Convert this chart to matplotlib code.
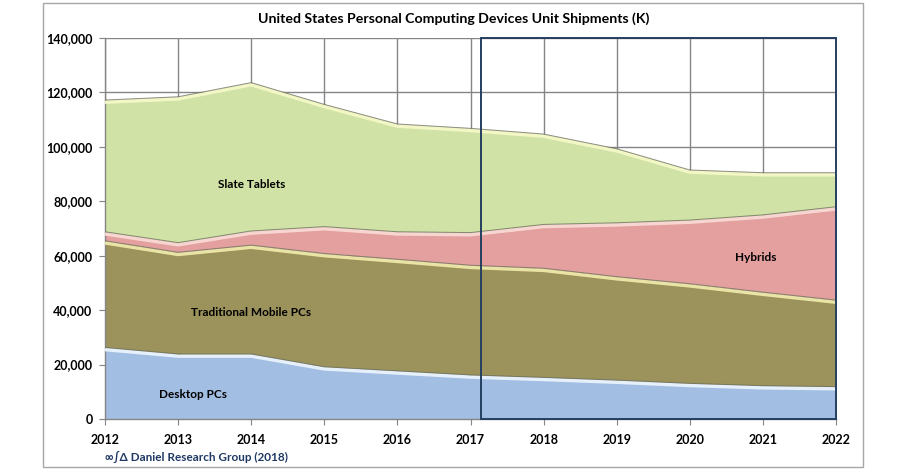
import matplotlib
matplotlib.use("Agg")
import matplotlib.pyplot as plt
import matplotlib.transforms as mtransforms
from matplotlib.patches import Rectangle
import numpy as np

plt.rcParams['font.family'] = ['Lato', 'DejaVu Sans']

years = [2012, 2013, 2014, 2015, 2016, 2017, 2018, 2019, 2020, 2021, 2022]
desktop = [26300, 23900, 23900, 19200, 17700, 16200, 15300, 14300, 13100, 12250, 11900]
mobile = [39200, 37350, 40000, 41600, 41000, 40300, 40100, 38000, 36600, 34350, 31800]
hybrids = [3300, 3550, 5200, 9900, 10100, 12000, 16100, 19800, 23400, 28400, 34300]
tablets = [48400, 53600, 54500, 44900, 39600, 38300, 33200, 27200, 18400, 15500, 12500]
yticks = [0, 20000, 40000, 60000, 80000, 100000, 120000, 140000]
forecast_start = 2017.14

title = "United States Personal Computing Devices Unit Shipments (K)"
source = "\u221e\u222b\u0394 Daniel Research Group (2018)"

fig = plt.figure(figsize=(9.09, 4.76), dpi=100)
fig.patch.set_facecolor('white')
# outer chart frame
fig.patches.append(Rectangle((43/909, 1-467/476), (863-43)/909, (467-3)/476,
                             transform=fig.transFigure, fill=False,
                             edgecolor='#A6A6A6', lw=1.0))

ax = fig.add_axes([105/909, 57/476, (836-105)/909, (419-38)/476])
ax.set_xlim(2012, 2022)
ax.set_ylim(0, 140000)

x = np.array(years, dtype=float)
series = [desktop, mobile, hybrids, tablets]
colors = ['#A3BEE3', '#9C925B', '#E3A09E', '#D0E2A5']
light = ['#E6F0FA', '#E9E4A6', '#F7D6D2', '#F3F7C6']
base = np.zeros(len(x))
tops = []
for s, c in zip(series, colors):
    top = base + np.array(s, dtype=float)
    ax.fill_between(x, base, top, color=c, lw=0, zorder=2)
    tops.append(top)
    base = top

off_down = mtransforms.offset_copy(ax.transData, fig=fig, x=0, y=-1.6, units='points')
for top, lc in zip(tops, light):
    ax.plot(x, top, color=lc, lw=2.4, transform=off_down, zorder=3, solid_capstyle='butt')
    ax.plot(x, top, color='#6F7160', lw=0.7, zorder=4, alpha=0.8)

ax.set_xticks(years)
ax.set_xticklabels([str(y) for y in years], fontsize=9, fontweight='bold')
ax.set_yticks(yticks)
ax.set_yticklabels([f"{v:,}" for v in yticks], fontsize=9, fontweight='bold')
ax.grid(True, color='#858585', lw=1.0, zorder=1)
ax.set_axisbelow(True)
for sp in ['top', 'right']:
    ax.spines[sp].set_visible(False)
for sp in ['left', 'bottom']:
    ax.spines[sp].set_color('#858585')
    ax.spines[sp].set_linewidth(1.0)
ax.tick_params(axis='y', length=4, color='#858585', pad=5)
ax.tick_params(axis='x', length=4, color='#858585', pad=7)

# forecast box
ax.add_patch(Rectangle((forecast_start, 0), 2022 - forecast_start, 140000,
                       fill=False, edgecolor='#243F60', lw=1.4, zorder=6, clip_on=False))

ax.text(2014.0, 86000, "Slate Tablets", ha='center', va='center', fontsize=8.5, fontweight='bold', zorder=7)
ax.text(2014.0, 39200, "Traditional Mobile PCs", ha='center', va='center', fontsize=8.5, fontweight='bold', zorder=7)
ax.text(2013.2, 9000, "Desktop PCs", ha='center', va='center', fontsize=8.5, fontweight='bold', zorder=7)
ax.text(2020.9, 59200, "Hybrids", ha='center', va='center', fontsize=8.5, fontweight='bold', zorder=7)

fig.text(454/909, 1-19/476, title, ha='center', va='center', fontsize=10.2, fontweight='bold')
fig.text(105/909, 1-457/476, source, ha='left', va='center', fontsize=8.5, color='#1F3864', fontweight='bold')

fig.savefig('out.png', dpi=100, facecolor='white')
